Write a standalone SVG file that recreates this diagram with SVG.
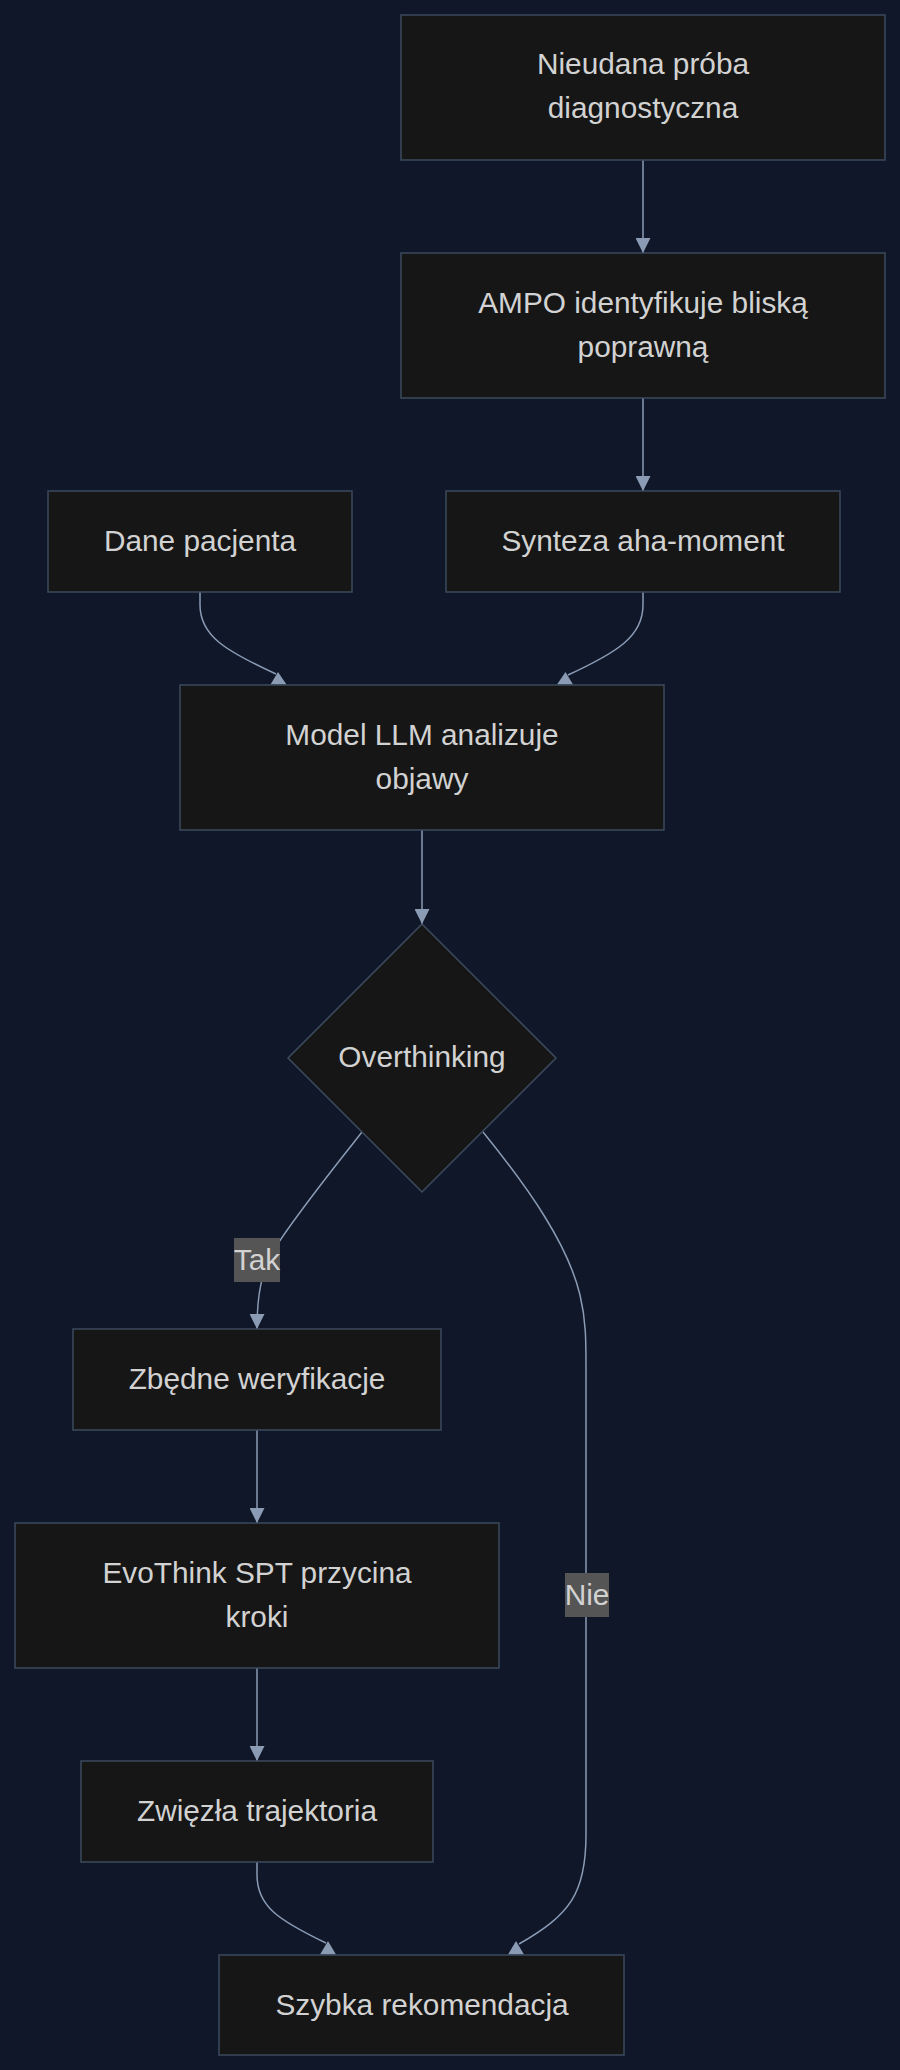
<svg xmlns="http://www.w3.org/2000/svg" width="900" height="2070" viewBox="0 0 900 2070">
<style>
.node{fill:#161616;stroke:#3d4b5f;stroke-width:1.5}
.t{font-family:"Liberation Sans",Arial,sans-serif;font-size:29.8px;fill:#d2d2d2;text-anchor:middle}
.edge{fill:none;stroke:#8b9bb4;stroke-width:1.5}
.head{fill:#8b9bb4}
.lbl{fill:#555555}
</style>
<defs>
<marker id="arr" markerUnits="userSpaceOnUse" markerWidth="15" markerHeight="15" refX="15" refY="7.5" orient="auto" viewBox="0 0 15 15">
<path d="M0,0 L15,7.5 L0,15 z" fill="#8b9bb4"/>
</marker>
</defs>
<rect width="900" height="2070" fill="#0f1729"/>
<g id="connectors">
<path class="edge" d="M643,160 L643,253" marker-end="url(#arr)"/>
<path class="edge" d="M643,398 L643,491" marker-end="url(#arr)"/>
<path class="edge" d="M200,592 L200,605 C200,636 226,651 276,674"/>
<polygon class="head" points="278,672 270.5,684.5 286.5,684.5"/>
<path class="edge" d="M643,592 L643,605 C643,636 618,652 568,675"/>
<polygon class="head" points="565.5,672 557,684.5 573,684.5"/>
<path class="edge" d="M422,830 L422,924" marker-end="url(#arr)"/>
<path class="edge" d="M362,1132 C330,1173 292,1220 274,1250 C262,1272 257,1292 257,1329" marker-end="url(#arr)"/>
<path class="edge" d="M483,1132 C530,1190 568,1245 580,1295 C586,1320 586,1340 586,1370 L586,1835 C586,1893 570,1915 519,1944"/>
<polygon class="head" points="516,1941 508,1954.5 524,1954.5"/>
<path class="edge" d="M257,1430 L257,1523" marker-end="url(#arr)"/>
<path class="edge" d="M257,1668 L257,1761" marker-end="url(#arr)"/>
<path class="edge" d="M257,1862 L257,1875 C257,1906 278,1920 326,1943"/>
<polygon class="head" points="328,1941 320,1954.5 336,1954.5"/>
<g id="label-tak">
<rect class="lbl" x="234" y="1238" width="46" height="44"/>
<text class="t" x="257" y="1270">Tak</text>
</g>
<g id="label-nie">
<rect class="lbl" x="565" y="1573" width="44" height="44"/>
<text class="t" x="587" y="1605">Nie</text>
</g>
</g>
<g id="n1">
<rect class="node" x="401" y="15" width="484" height="145"/>
<text class="t" x="643" y="74">Nieudana próba</text>
<text class="t" x="643" y="118">diagnostyczna</text>
</g>
<g id="n2">
<rect class="node" x="401" y="253" width="484" height="145"/>
<text class="t" x="643" y="313">AMPO identyfikuje bliską</text>
<text class="t" x="643" y="357">poprawną</text>
</g>
<g id="n3">
<rect class="node" x="48" y="491" width="304" height="101"/>
<text class="t" x="200" y="551">Dane pacjenta</text>
</g>
<g id="n4">
<rect class="node" x="446" y="491" width="394" height="101"/>
<text class="t" x="643" y="551">Synteza aha-moment</text>
</g>
<g id="n5">
<rect class="node" x="180" y="685" width="484" height="145"/>
<text class="t" x="422" y="745">Model LLM analizuje</text>
<text class="t" x="422" y="789">objawy</text>
</g>
<g id="n6">
<polygon class="node" points="422,924 556,1058 422,1192 288,1058"/>
<text class="t" x="422" y="1067">Overthinking</text>
</g>
<g id="n7">
<rect class="node" x="73" y="1329" width="368" height="101"/>
<text class="t" x="257" y="1389">Zbędne weryfikacje</text>
</g>
<g id="n8">
<rect class="node" x="15" y="1523" width="484" height="145"/>
<text class="t" x="257" y="1583">EvoThink SPT przycina</text>
<text class="t" x="257" y="1627">kroki</text>
</g>
<g id="n9">
<rect class="node" x="81" y="1761" width="352" height="101"/>
<text class="t" x="257" y="1821">Zwięzła trajektoria</text>
</g>
<g id="n10">
<rect class="node" x="219" y="1955" width="405" height="100"/>
<text class="t" x="422" y="2015">Szybka rekomendacja</text>
</g>
</svg>
